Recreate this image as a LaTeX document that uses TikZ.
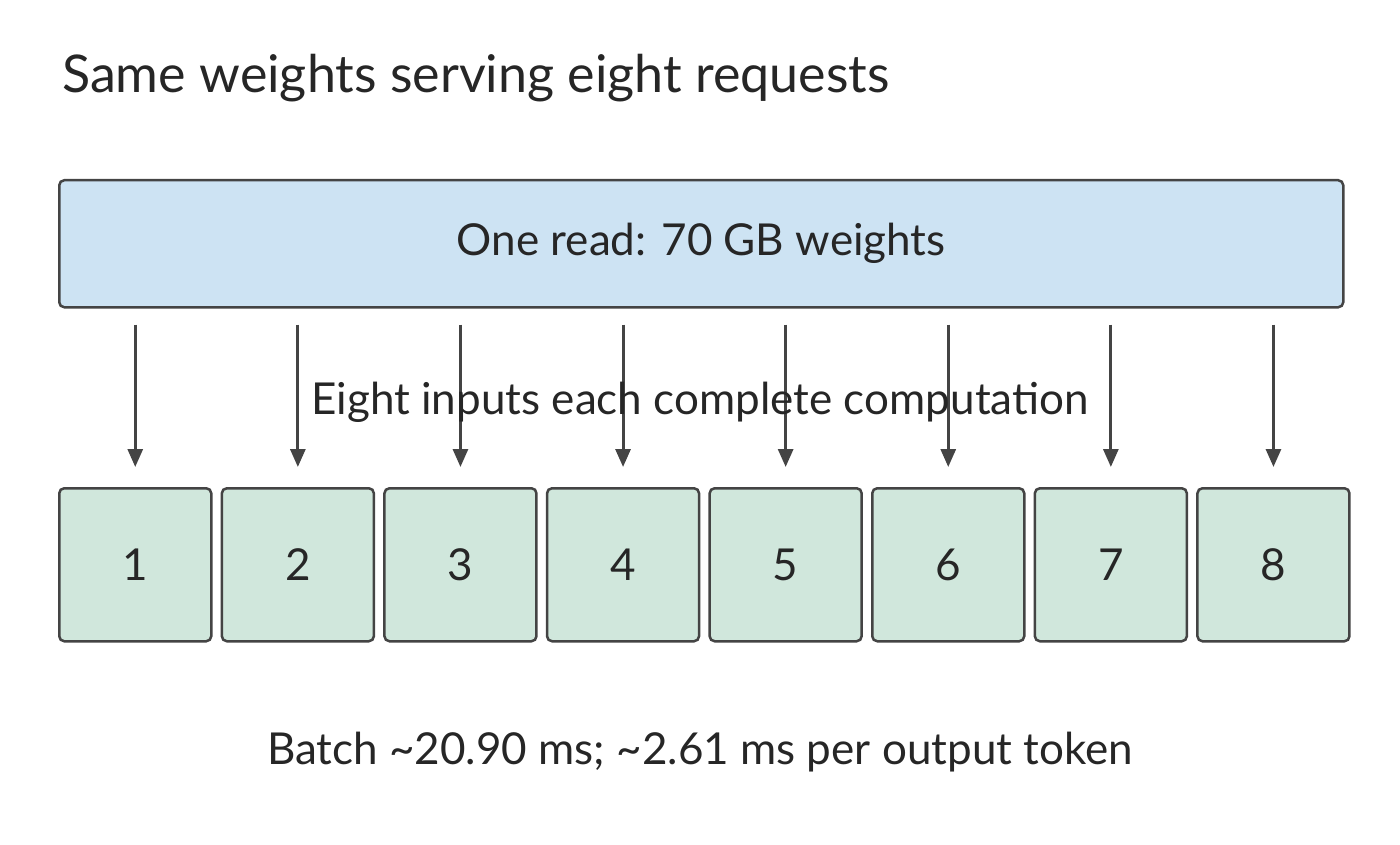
\documentclass[tikz,border=0pt]{standalone}
\usepackage{fontspec}
\setmainfont{Lato}
\usetikzlibrary{arrows.meta}
\definecolor{ln}{HTML}{444444}
\definecolor{txt}{HTML}{262626}
\begin{document}
\begin{tikzpicture}[x=1pt,y=-1pt,
  box/.style={draw=ln,line width=2.5pt,rounded corners=5pt,inner sep=0pt,anchor=north west},
  arr/.style={draw=ln,line width=3pt,-{Triangle[length=18pt,width=15pt]},shorten <=16pt,shorten >=20pt},
  lbl/.style={text=txt,font=\fontsize{44}{50}\selectfont}]
\useasboundingbox (0,0) rectangle (1400,845);
\node[anchor=base west,text=txt,font=\fontsize{52}{58}\selectfont,inner sep=0pt] (title) at (62,93) {Same weights serving eight requests};
\node[box,fill={rgb,255:red,205;green,227;blue,243},minimum width=1284pt,minimum height=127pt] (w) at (58,179) {};
\node[lbl] (wt) at (w.center) {One read: 70 GB weights};
\foreach \i in {1,...,8}{
  \node[box,fill={rgb,255:red,208;green,231;blue,220},minimum width=152pt,minimum height=153pt] (s\i) at ({58+(\i-1)*162.6},487) {};
  \node[lbl] (n\i) at (s\i.center) {\i};
  \draw[arr] (w.south -| s\i.center) -- (s\i.north);
}
\node[lbl] (mid) at (700,402) {Eight inputs each complete computation};
\node[lbl] (bot) at (700,752) {Batch \textasciitilde20.90 ms; \textasciitilde2.61 ms per output token};
\end{tikzpicture}
\end{document}
